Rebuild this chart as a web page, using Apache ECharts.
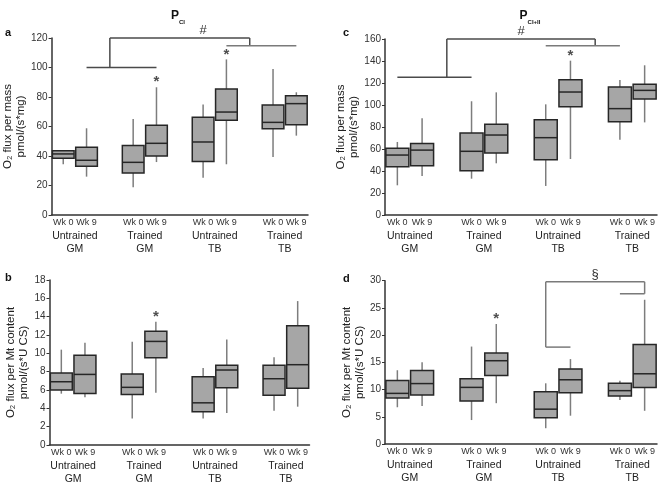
<!DOCTYPE html>
<html><head><meta charset="utf-8">
<script src="https://cdn.jsdelivr.net/npm/echarts@6/dist/echarts.min.js"></script>
<style>html,body{margin:0;padding:0;background:#fff}#c{width:660px;height:485px}</style>
</head><body><div id="c"></div>
<script>
// ---- data ----
const groups = ['Untrained\nGM', 'Trained\nGM', 'Untrained\nTB', 'Trained\nTB'];
const weeks = ['Wk 0', 'Wk 9'];
// each box: [min, Q1, median, Q3, max]; order UGM0, UGM9, TGM0, TGM9, UTB0, UTB9, TTB0, TTB9
const massCI = [[34.4,38.4,41.4,43.6,44],[26,33,37.1,45.9,58.8],[18.8,28.5,35.7,47.2,65.1],[35.9,40,48.6,60.8,86.6],
                [25.3,36.2,49.5,66.2,75],[34.4,64.2,69.8,85.4,105.5],[39.3,58.5,62.8,74.6,99],[53.8,61.2,75.5,80.9,83.2]];
const massCIII = [[27,43.9,54.5,60.6,66.4],[35.5,44.8,59,65,88],[33,40.3,57.9,74.5,103.4],[47,56.4,72.7,82.4,111.5],
                  [26.4,50.3,70.3,86.7,100.6],[50.9,98.5,111.8,123,140.3],[68.5,84.8,96.7,116.4,122.7],[84.2,105.5,113.3,118.8,136.1]];
const mtCI = [[5.6,6.0,6.9,7.85,10.4],[5.2,5.63,7.7,9.78,11.15],[2.9,5.52,6.29,7.74,11.27],[5.7,9.52,11.3,12.4,13.45],
              [2.9,3.64,4.6,7.45,8.4],[3.5,6.25,8.18,8.69,11.5],[3.74,5.42,7.23,8.69,9.56],[4.18,6.18,8.76,13.0,15.7]];
const mtCIII = [[6.75,8.45,9.3,11.65,13.55],[7.0,9.0,11.1,13.5,15.0],[4.4,7.9,10.4,12.0,17.9],[7.5,12.6,15.3,16.7,22.05],
                [2.9,4.8,6.4,9.6,11.15],[5.2,9.4,11.8,13.8,15.6],[8.1,8.8,9.8,11.15,11.6],[6.1,10.4,12.9,18.3,26.5]];
// boxes marked with *
const starsA = [3, 5];
const starsB = [3];
const starsC = [5];
const starsD = [3];
// y-axis ranges: [max, interval]
const yA = [120, 20], yB = [18, 2], yC = [160, 20], yD = [30, 5];
// significance brackets, in (slot, value) data coordinates
const bracketA = {segs: [[[0.5,100],[3.6,100],1],[[2,100],[2,120],1],[[2,120],[8.4,120],1],[[8.4,120],[8.4,114.8],1],[[6.8,114.8],[10,114.8],0]], mark: '#', at: [5.5,120]};
const bracketC = {segs: [[[0.42,125.2],[3.4,125.2],1],[[1.9,125.2],[1.9,160],1],[[1.9,160],[7.9,160],1],[[7.9,160],[7.9,153.9],1],[[6.4,153.9],[9.4,153.9],0]], mark: '#', at: [5.2,160]};
const bracketD = {segs: [[[5.6,17.8],[7.4,17.8],0],[[6.47,17.8],[6.47,29.8],0],[[6.47,29.8],[9.5,29.8],0],[[9.5,29.8],[9.5,27.6],0],[[8.63,27.6],[10.4,27.6],0]], mark: '§', at: [8.05,29.8]};

// ---- build ----
const cats = [];
const groupSlots = [''];
groups.forEach((g, i) => {
  cats.push(weeks[0], weeks[1]);
  groupSlots.push(g, '');
  if (i < groups.length - 1) { cats.push(''); groupSlots.push(''); }
});
const slotOf = i => Math.floor(i / 2) * 3 + (i % 2);
const FONT = "'Liberation Sans', Arial, sans-serif";

const panels = [
  {box: massCI, stars: starsA, y: yA, grid: {left: 49.5, top: 38, width: 258.5, height: 177}, name: 'O₂ flux per mass\npmol/(s*mg)'},
  {box: mtCI, stars: starsB, y: yB, grid: {left: 49.5, top: 280, width: 260, height: 165}, name: 'O₂ flux per Mt content\npmol/(s*U CS)'},
  {box: massCIII, stars: starsC, y: yC, grid: {left: 385, top: 39, width: 273.5, height: 176}, name: 'O₂ flux per mass\npmol/(s*mg)'},
  {box: mtCIII, stars: starsD, y: yD, grid: {left: 385, top: 280.7, width: 272.5, height: 163.3}, name: 'O₂ flux per Mt content\npmol/(s*U CS)'}
];

function renderBox(params, api) {
  const x = api.value(0);
  const p = [1,2,3,4,5].map(k => api.coord([x, api.value(k)]));
  const w = api.size([1, 0])[0] * 0.93;
  const cx = p[0][0];
  return {type: 'group', children: [
    {type: 'line', shape: {x1: cx, y1: p[0][1], x2: cx, y2: p[1][1]}, style: {stroke: '#7d7d7d', lineWidth: 1.5}},
    {type: 'line', shape: {x1: cx, y1: p[3][1], x2: cx, y2: p[4][1]}, style: {stroke: '#7d7d7d', lineWidth: 1.5}},
    {type: 'rect', shape: {x: cx - w/2, y: p[3][1], width: w, height: p[1][1] - p[3][1]}, style: {fill: '#a6a6a6', stroke: '#262626', lineWidth: 1.5}},
    {type: 'line', shape: {x1: cx - w/2, y1: p[2][1], x2: cx + w/2, y2: p[2][1]}, style: {stroke: '#262626', lineWidth: 1.5}}
  ]};
}

const option = {
  animation: false,
  textStyle: {fontFamily: FONT},
  grid: panels.map(p => Object.assign({containLabel: false}, p.grid)),
  xAxis: [],
  yAxis: [],
  series: []
};
panels.forEach((p, i) => {
  option.xAxis.push({
    type: 'category', gridIndex: i, data: cats, position: 'bottom',
    axisLine: {lineStyle: {color: '#333', width: 1.5}}, axisTick: {show: false},
    axisLabel: {interval: 0, fontSize: 9, color: '#333', margin: 3}, splitLine: {show: false}
  });
  option.xAxis.push({
    type: 'category', gridIndex: i, data: groupSlots, position: 'bottom', boundaryGap: false,
    axisLine: {show: false}, axisTick: {show: false}, splitLine: {show: false},
    axisLabel: {interval: 0, fontSize: 10.5, lineHeight: 12.5, color: '#222', margin: 15}
  });
  option.yAxis.push({
    type: 'value', gridIndex: i, min: 0, max: p.y[0], interval: p.y[1],
    axisLine: {show: true, lineStyle: {color: '#333', width: 1.5}},
    axisTick: {show: true, length: 3, lineStyle: {color: '#333'}},
    axisLabel: {fontSize: 10, color: '#333', margin: 4}, splitLine: {show: false},
    name: p.name, nameLocation: 'middle', nameRotate: 90, nameGap: 19,
    nameTextStyle: {fontSize: 11.5, color: '#222', lineHeight: 13}
  });
});
panels.forEach((p, i) => {
  option.series.push({
    type: 'custom', xAxisIndex: 2*i, yAxisIndex: i, renderItem: renderBox,
    encode: {x: 0, y: [1,2,3,4,5]},
    data: p.box.map((b, k) => [slotOf(k)].concat(b))
  });
});
panels.forEach((p, i) => {
  option.series.push({
    type: 'scatter', xAxisIndex: 2*i, yAxisIndex: i, symbolSize: 1,
    itemStyle: {color: 'rgba(0,0,0,0)'},
    label: {show: true, position: 'top', distance: -3, formatter: '*', fontSize: 15, fontWeight: 'bold', color: '#222'},
    data: p.stars.map(k => [slotOf(k), p.box[k][4]])
  });
});

const chart = echarts.init(document.getElementById('c'), null, {renderer: 'canvas'});
chart.setOption(option);

const graphics = [];
function addBracket(br, panelIdx) {
  const finder = {xAxisIndex: 2*panelIdx, yAxisIndex: panelIdx};
  br.segs.forEach(s => {
    const a = chart.convertToPixel(finder, s[0]);
    const b = chart.convertToPixel(finder, s[1]);
    graphics.push({type: 'line', shape: {x1: a[0], y1: a[1], x2: b[0], y2: b[1]},
      style: {stroke: s[2] ? '#4a4a4a' : '#7a7a7a', lineWidth: 1.5}, silent: true});
  });
  const m = chart.convertToPixel(finder, br.at);
  graphics.push({type: 'text', x: m[0], y: m[1] - 1, style: {text: br.mark, fontSize: 13, fill: '#333', align: 'center', verticalAlign: 'bottom', font: '13px ' + FONT}});
}
addBracket(bracketA, 0);
addBracket(bracketC, 2);
addBracket(bracketD, 3);

const letters = [['a', 5, 33], ['c', 343, 33], ['b', 5, 278], ['d', 343, 279]];
letters.forEach(l => graphics.push({type: 'text', x: l[1], y: l[2], style: {text: l[0], fontSize: 11, fontWeight: 'bold', fill: '#111', fontFamily: FONT, verticalAlign: 'middle'}}));
graphics.push({type: 'text', x: 178, y: 16, style: {text: '{p|P}{s|CI}', align: 'center', verticalAlign: 'middle', fill: '#111',
  rich: {p: {fontSize: 12, fontWeight: 'bold', fontFamily: FONT}, s: {fontSize: 6, fontWeight: 'bold', fontFamily: FONT, verticalAlign: 'bottom', padding: [0,0,-3,0]}}}});
graphics.push({type: 'text', x: 530, y: 16, style: {text: '{p|P}{s|CI+II}', align: 'center', verticalAlign: 'middle', fill: '#111',
  rich: {p: {fontSize: 12, fontWeight: 'bold', fontFamily: FONT}, s: {fontSize: 6, fontWeight: 'bold', fontFamily: FONT, verticalAlign: 'bottom', padding: [0,0,-3,0]}}}});
chart.setOption({graphic: graphics});
</script>
</body></html>
